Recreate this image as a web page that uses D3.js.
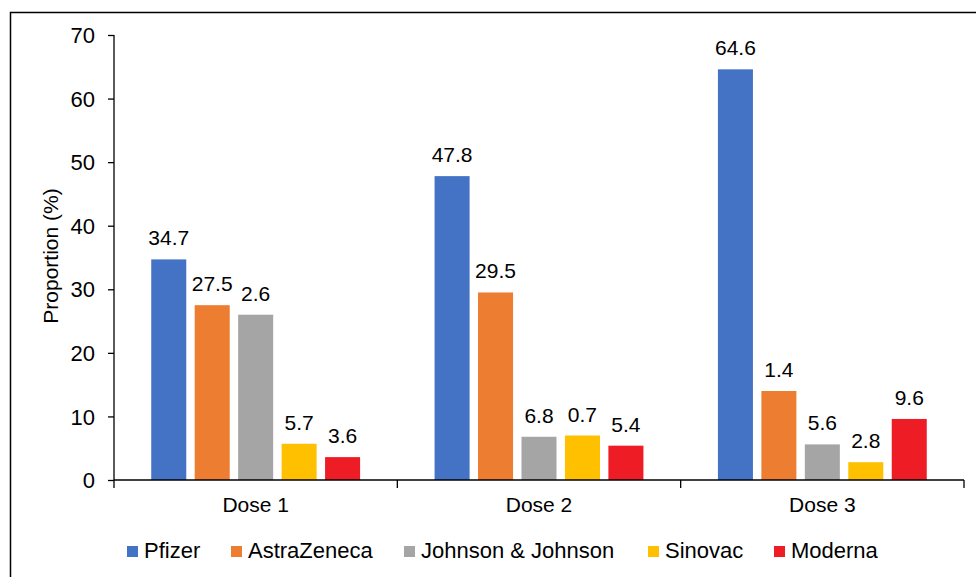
<!DOCTYPE html>
<html>
<head>
<meta charset="utf-8">
<script src="https://cdn.jsdelivr.net/npm/d3@7"></script>
<style>
  body { margin: 0; background: #fff; }
  text { font-family: "Liberation Sans", Arial, sans-serif; fill: #000; }
</style>
</head>
<body>
<div id="chart"></div>
<script>
var doses = ['Dose 1', 'Dose 2', 'Dose 3'];
var vaccines = ['Pfizer', 'AstraZeneca', 'Johnson & Johnson', 'Sinovac', 'Moderna'];
var colors = ['#4472C4', '#ED7D31', '#A5A5A5', '#FFC000', '#EE1C25'];
// bar heights, per vaccine across doses
var pfizer = [34.7, 47.8, 64.6];
var astra = [27.5, 29.5, 14.0];
var johnson = [26.0, 6.8, 5.6];
var sinovac = [5.7, 7.0, 2.8];
var moderna = [3.6, 5.4, 9.6];
// data labels as printed on the chart
var pfizer_lbl = ['34.7', '47.8', '64.6'];
var astra_lbl = ['27.5', '29.5', '1.4'];
var johnson_lbl = ['2.6', '6.8', '5.6'];
var sinovac_lbl = ['5.7', '0.7', '2.8'];
var moderna_lbl = ['3.6', '5.4', '9.6'];
var y_ticks = [0, 10, 20, 30, 40, 50, 60, 70];

var values = [pfizer, astra, johnson, sinovac, moderna];
var labels = [pfizer_lbl, astra_lbl, johnson_lbl, sinovac_lbl, moderna_lbl];

var chart_width = 976;
var chart_height = 577;

var svg = d3.select('#chart')
    .append('svg')
    .attr('width', chart_width)
    .attr('height', chart_height);

// outer frame (left and top edges visible)
svg.append('path')
    .attr('d', 'M10.5,577 V12.5 H976')
    .attr('fill', 'none')
    .attr('stroke', '#000')
    .attr('stroke-width', 1.5);

var x0 = d3.scaleBand()
    .domain(doses)
    .range([114, 964]);

var x1 = d3.scaleBand()
    .domain(d3.range(vaccines.length))
    .range([0, x0.bandwidth()])
    .paddingInner(0.194)
    .paddingOuter(0.857);

var y = d3.scaleLinear()
    .domain([0, 70])
    .range([480, 35]);

// bars
var rows = [];
doses.forEach(function (d, i) {
    vaccines.forEach(function (v, j) {
        rows.push({ dose: d, s: j, value: values[j][i], label: labels[j][i] });
    });
});

svg.selectAll('rect.bar')
    .data(rows)
    .enter()
    .append('rect')
    .attr('class', 'bar')
    .attr('x', function (d) { return x0(d.dose) + x1(d.s); })
    .attr('y', function (d) { return y(d.value); })
    .attr('width', x1.bandwidth())
    .attr('height', function (d) { return y(0) - y(d.value); })
    .attr('fill', function (d) { return colors[d.s]; });

svg.selectAll('text.lbl')
    .data(rows)
    .enter()
    .append('text')
    .attr('class', 'lbl')
    .attr('x', function (d) { return x0(d.dose) + x1(d.s) + x1.bandwidth() / 2; })
    .attr('y', function (d) { return y(d.value) - 14; })
    .attr('text-anchor', 'middle')
    .style('font-size', '21px')
    .text(function (d) { return d.label; });

// y axis
var y_axis = svg.append('g')
    .attr('transform', 'translate(114,0)')
    .call(d3.axisLeft(y).tickValues(y_ticks).tickSize(6).tickPadding(13));
y_axis.selectAll('text').style('font-size', '22px').attr('dy', '0.35em');
y_axis.selectAll('line, path').attr('stroke', '#000').attr('stroke-width', 1.3);
y_axis.select('.domain').attr('d', 'M0,35V480');

// x axis
var x_axis = svg.append('g')
    .attr('transform', 'translate(0,480)')
    .call(d3.axisBottom(x0).tickSize(0).tickPadding(17));
x_axis.selectAll('text').style('font-size', '21px');
x_axis.select('.domain').attr('d', 'M114,0H964').attr('stroke', '#000').attr('stroke-width', 1.5);

// category separators
svg.selectAll('line.sep')
    .data(doses.concat(['end']))
    .enter()
    .append('line')
    .attr('class', 'sep')
    .attr('x1', function (d, i) { return x0.range()[0] + i * x0.step(); })
    .attr('x2', function (d, i) { return x0.range()[0] + i * x0.step(); })
    .attr('y1', 480)
    .attr('y2', 488)
    .attr('stroke', '#000')
    .attr('stroke-width', 1.3);

// y axis title
svg.append('text')
    .attr('transform', 'translate(58,256) rotate(-90)')
    .attr('text-anchor', 'middle')
    .style('font-size', '21px')
    .text('Proportion (%)');

// legend
var legend_x = [127, 231, 404, 648, 774];
var legend = svg.selectAll('g.legend')
    .data(vaccines)
    .enter()
    .append('g')
    .attr('class', 'legend')
    .attr('transform', function (d, i) { return 'translate(' + legend_x[i] + ',551)'; });

legend.append('rect')
    .attr('x', 0)
    .attr('y', -5)
    .attr('width', 11)
    .attr('height', 11)
    .attr('fill', function (d, i) { return colors[i]; });

legend.append('text')
    .attr('x', 17)
    .attr('y', 7)
    .style('font-size', '22px')
    .text(function (d) { return d; });
</script>
</body>
</html>
